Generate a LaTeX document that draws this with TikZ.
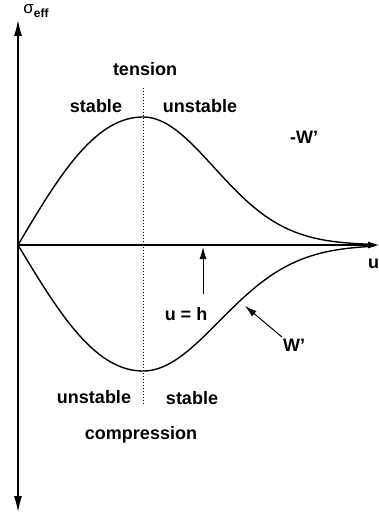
\documentclass[tikz,border=0pt]{standalone}
\usepackage{fontspec}
\setmainfont{Liberation Sans}
\usetikzlibrary{arrows.meta}
\tikzset{
  lbl/.style={font=\fontsize{18}{21}\selectfont\bfseries, inner sep=0pt},
  curve/.style={line width=1.4pt, line join=round},
  axis/.style={line width=1.1pt},
  ptr/.style={line width=1pt, -{Latex[length=12pt,width=7pt]}}
}
\begin{document}
\begin{tikzpicture}[x=1pt,y=-1pt]
\useasboundingbox (0,0) rectangle (379,518);
% axes
\coordinate (O) at (18,245);
\coordinate (top) at (18,20);
\coordinate (bot) at (18,512);
\coordinate (uend) at (379,245);
\draw[axis, {Latex[length=16pt,width=8pt]}-{Latex[length=16pt,width=8pt]}] (bot) -- (top);
\draw[axis, -{Latex[length=11pt,width=7pt]}] (O) -- (uend);
% dotted line
\coordinate (dtop) at (143,88);
\coordinate (dbot) at (143,405);
\draw[dotted, line width=1pt] (dtop) -- (dbot);
% upper curve (-W')
\draw[curve] plot[domain=0:1, samples=40, smooth] ({18+125*\x},{245-128*\x*exp((1-\x*\x)/2)})
  -- plot[domain=143:374, samples=60, smooth] ({\x},{245-128*exp(-((\x-143)/71)*((\x-143)/71)/2)});
% lower curve (W')
\draw[curve] plot[domain=0:1, samples=40, smooth] ({18+125*\x},{245+126*\x*exp((1-\x*\x)/2)})
  -- plot[domain=143:374, samples=60, smooth] ({\x},{245+126*exp(-((\x-143)/76)*((\x-143)/76)/2)});
% labels
\node[inner sep=0pt] (sig) at (36,11) {\fontsize{17}{17}\selectfont σ\raisebox{-0.45ex}{\fontsize{12}{12}\selectfont\bfseries eff}};
\node[lbl] (tens) at (145,69) {tension};
\node[lbl] (st1) at (96,106) {stable};
\node[lbl] (un1) at (200,106) {unstable};
\node[lbl] (mW) at (304,137) {-W'};
\node[lbl] (uh) at (186,314) {u = h};
\node[lbl] (W) at (294,345) {W'};
\node[lbl] (un2) at (94,397) {unstable};
\node[lbl] (st2) at (192,398) {stable};
\node[lbl] (comp) at (141,435) {compression};
\node[lbl, anchor=west] (u) at (368,264) {u};
% pointer arrows
\coordinate (uhs) at (203,294);
\coordinate (uht) at (203,247);
\draw[ptr] (uhs) -- (uht);
\coordinate (Ws) at (282,337);
\coordinate (Wt) at (245,306);
\draw[ptr] (Ws) -- (Wt);
\end{tikzpicture}
\end{document}
